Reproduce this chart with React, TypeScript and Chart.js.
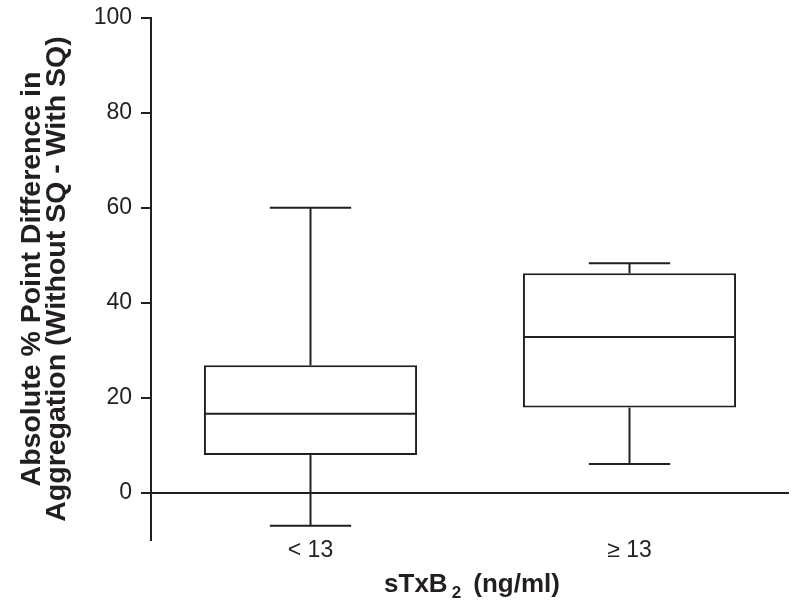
import React, { useEffect, useRef } from "react";
import { Chart, registerables } from "chart.js";

Chart.register(...registerables);

const categories = ["< 13", "\u2265 13"];
const whiskerMin = [-7.0, 6.0];
const q1 = [7.9, 17.9];
const median = [16.6, 32.8];
const q3 = [26.8, 46.2];
const whiskerMax = [60.0, 48.3];
const yTickValues = [0, 20, 40, 60, 80, 100];
const xTitleMain = "sTxB";
const xTitleSub = "2";
const xTitleRest = " (ng/ml)";
const yTitleLines = ["Absolute % Point Difference in", "Aggregation (Without SQ - With SQ)"];

const INK = "#231f20";
const FAMILY = "'Liberation Sans', Arial, Helvetica, sans-serif";

const boxPlugin = {
  id: "boxWhiskers",
  afterDatasetsDraw(chart: any) {
    const ctx = chart.ctx;
    const x = chart.scales.x;
    const y = chart.scales.y;
    const catW = x.width / categories.length;
    const boxW = catW * 0.668;
    const capW = catW * 0.255;
    ctx.save();
    ctx.strokeStyle = INK;
    ctx.lineWidth = 2;
    ctx.lineCap = "butt";
    const line = (x1: number, y1: number, x2: number, y2: number) => {
      ctx.beginPath();
      ctx.moveTo(x1, y1);
      ctx.lineTo(x2, y2);
      ctx.stroke();
    };
    categories.forEach((_, i) => {
      const cx = x.getPixelForValue(i);
      line(cx, y.getPixelForValue(q3[i]), cx, y.getPixelForValue(whiskerMax[i]));
      line(cx - capW / 2, y.getPixelForValue(whiskerMax[i]), cx + capW / 2, y.getPixelForValue(whiskerMax[i]));
      line(cx, y.getPixelForValue(q1[i]), cx, y.getPixelForValue(whiskerMin[i]));
      line(cx - capW / 2, y.getPixelForValue(whiskerMin[i]), cx + capW / 2, y.getPixelForValue(whiskerMin[i]));
      line(cx - boxW / 2, y.getPixelForValue(median[i]), cx + boxW / 2, y.getPixelForValue(median[i]));
    });
    ctx.restore();
  },
  afterDraw(chart: any) {
    const ctx = chart.ctx;
    const area = chart.chartArea;
    ctx.save();
    ctx.fillStyle = INK;
    ctx.textBaseline = "alphabetic";
    ctx.textAlign = "left";
    const mainFont = `bold 26px ${FAMILY}`;
    const subFont = `bold 17px ${FAMILY}`;
    ctx.font = mainFont;
    const w1 = ctx.measureText(xTitleMain).width;
    const w3 = ctx.measureText(xTitleRest).width;
    ctx.font = subFont;
    const w2 = ctx.measureText(xTitleSub).width;
    const gap1 = 4;
    const gap2 = 5;
    const total = w1 + gap1 + w2 + gap2 + w3;
    let sx = (area.left + area.right) / 2 - total / 2 + 2;
    const base = area.bottom + 52;
    ctx.font = mainFont;
    ctx.fillText(xTitleMain, sx, base);
    sx += w1 + gap1;
    ctx.font = subFont;
    ctx.fillText(xTitleSub, sx, base + 6);
    sx += w2 + gap2;
    ctx.font = mainFont;
    ctx.fillText(xTitleRest, sx, base);
    ctx.restore();
  },
};

export default function App() {
  const ref = useRef<HTMLCanvasElement>(null);
  useEffect(() => {
    if (!ref.current) return;
    const chart = new Chart(ref.current, {
      type: "bar",
      data: {
        labels: categories,
        datasets: [
          {
            data: categories.map((_, i) => [q1[i], q3[i]]) as any,
            backgroundColor: "#ffffff",
            borderColor: INK,
            borderWidth: 2,
            borderSkipped: false,
            barPercentage: 0.668,
            categoryPercentage: 1,
          },
        ],
      },
      options: {
        responsive: false,
        animation: false,
        layout: { padding: { top: 18, right: 11, bottom: 0, left: 0 } },
        plugins: { legend: { display: false }, tooltip: { enabled: false } },
        scales: {
          x: {
            grid: { display: false, drawTicks: false },
            border: { display: false },
            afterFit(scale: any) {
              scale.height = 72;
            },
            ticks: {
              color: INK,
              padding: -3,
              font: { family: FAMILY, size: 23 },
            },
          },
          y: {
            min: -10,
            max: 100,
            afterBuildTicks(scale: any) {
              scale.ticks = yTickValues.map((v) => ({ value: v }));
            },
            afterFit(scale: any) {
              scale.width = 151;
              scale.paddingTop = 0;
              scale.paddingBottom = 0;
            },
            grid: {
              color: (c: any) => (c.tick && c.tick.value === 0 ? INK : "rgba(0,0,0,0)"),
              lineWidth: 2,
              tickColor: INK,
              tickLength: 10,
              drawOnChartArea: true,
            },
            border: { display: true, color: INK, width: 2 },
            ticks: {
              color: INK,
              padding: 9,
              font: { family: FAMILY, size: 23 },
            },
            title: {
              display: true,
              text: yTitleLines,
              color: INK,
              padding: { top: 20, bottom: 0 },
              font: { family: FAMILY, size: 28.5, weight: "bold", lineHeight: 0.87 },
            },
          },
        },
      },
      plugins: [boxPlugin],
    });
    return () => chart.destroy();
  }, []);
  return (
    <div style={{ position: "fixed", left: 0, top: 0, width: 800, height: 612, background: "#fff" }}>
      <canvas ref={ref} width={800} height={612} />
    </div>
  );
}
